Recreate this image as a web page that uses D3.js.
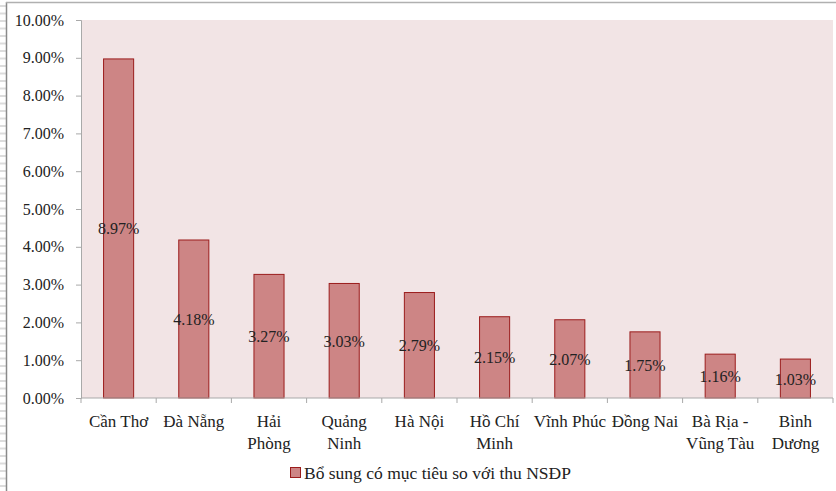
<!DOCTYPE html>
<html>
<head>
<meta charset="utf-8">
<script src="https://cdn.jsdelivr.net/npm/d3@7"></script>
<style>
  body { margin: 0; background: #fff; }
  text { font-family: "Liberation Serif", "Times New Roman", serif; fill: #222; }
</style>
</head>
<body>
<svg id="chart" width="836" height="491"></svg>
<script>
var categories = ["Cần Thơ", "Đà Nẵng", "Hải|Phòng", "Quảng|Ninh", "Hà Nội", "Hồ Chí|Minh",
                  "Vĩnh Phúc", "Đồng Nai", "Bà Rịa -|Vũng Tàu", "Bình|Dương"];
var values = [8.97, 4.18, 3.27, 3.03, 2.79, 2.15, 2.07, 1.75, 1.16, 1.03];
var yTicks = [0, 1, 2, 3, 4, 5, 6, 7, 8, 9, 10];
var seriesName = "Bổ sung có mục tiêu so với thu NSĐP";

var svg = d3.select("#chart");
var mLeft = 81, mRight = 833, mTop = 20, mBottom = 398;

// frame bits on the edge of the picture
svg.append("g").selectAll("line")
  .data(d3.range(6, 491, 7.5))
  .enter().append("line")
  .attr("x1", 0).attr("x2", 6).attr("y1", d => d).attr("y2", d => d)
  .attr("stroke", "#dcdcdc").attr("stroke-width", 2);
svg.append("line").attr("x1", 6.5).attr("x2", 6.5).attr("y1", 2).attr("y2", 491)
  .attr("stroke", "#8a8a8a").attr("stroke-width", 1.5);
svg.append("line").attr("x1", 6).attr("x2", 836).attr("y1", 2.5).attr("y2", 2.5)
  .attr("stroke", "#b0b0b0").attr("stroke-width", 1.5);

var x = d3.scaleBand().domain(d3.range(categories.length)).range([mLeft, mRight]).paddingInner(0.6).paddingOuter(0.3);
var xb = d3.scaleBand().domain(d3.range(categories.length)).range([mLeft, mRight]);
var y = d3.scaleLinear().domain([0, 10]).range([mBottom, mTop]);

svg.append("rect").attr("x", mLeft).attr("y", mTop)
  .attr("width", mRight - mLeft).attr("height", mBottom - mTop)
  .attr("fill", "#f2e4e5");

svg.append("g")
  .attr("transform", "translate(" + mLeft + ",0)")
  .call(d3.axisLeft(y).tickValues(yTicks).tickSize(5).tickFormat(d => d.toFixed(2) + "%"))
  .call(g => g.selectAll("line, path").attr("stroke", "#a9a9a9"))
  .call(g => g.selectAll("text").attr("font-size", 16).attr("x", -17).attr("fill", "#222")
    .style("font-family", "'Liberation Serif', serif"));

svg.append("g").selectAll("rect")
  .data(values)
  .enter().append("rect")
  .attr("x", (d, i) => x(i))
  .attr("y", d => y(d))
  .attr("width", x.bandwidth())
  .attr("height", d => mBottom - y(d))
  .attr("fill", "#cd8585")
  .attr("stroke", "#9b1c1c")
  .attr("stroke-width", 1);

svg.append("g").selectAll("text")
  .data(values)
  .enter().append("text")
  .attr("x", (d, i) => x(i) + x.bandwidth() / 2)
  .attr("y", d => (y(d) + mBottom) / 2 + 6)
  .attr("text-anchor", "middle")
  .attr("font-size", 16)
  .text(d => d.toFixed(2) + "%");

// x axis
var xAxis = svg.append("g").attr("transform", "translate(0," + mBottom + ")");
xAxis.append("line").attr("x1", mLeft).attr("x2", mRight).attr("stroke", "#a9a9a9");
xAxis.selectAll("line.tick")
  .data(d3.range(categories.length + 1))
  .enter().append("line").attr("class", "tick")
  .attr("x1", i => mLeft + i * xb.step()).attr("x2", i => mLeft + i * xb.step())
  .attr("y1", 0).attr("y2", 5).attr("stroke", "#a9a9a9");

var labels = svg.append("g").selectAll("text")
  .data(categories)
  .enter().append("text")
  .attr("x", (d, i) => xb(i) + xb.bandwidth() / 2)
  .attr("y", 427)
  .attr("text-anchor", "middle")
  .attr("font-size", 17);
labels.each(function(d) {
  var t = d3.select(this);
  d.split("|").forEach(function(line, k) {
    t.append("tspan").attr("x", t.attr("x")).attr("dy", k ? 22 : 0).text(line);
  });
});

// legend
svg.append("rect").attr("x", 290.5).attr("y", 467.5).attr("width", 10).attr("height", 10)
  .attr("fill", "#cd8585").attr("stroke", "#9b1c1c");
svg.append("text").attr("x", 304).attr("y", 479).attr("font-size", 17.5).text(seriesName);
</script>
</body>
</html>
